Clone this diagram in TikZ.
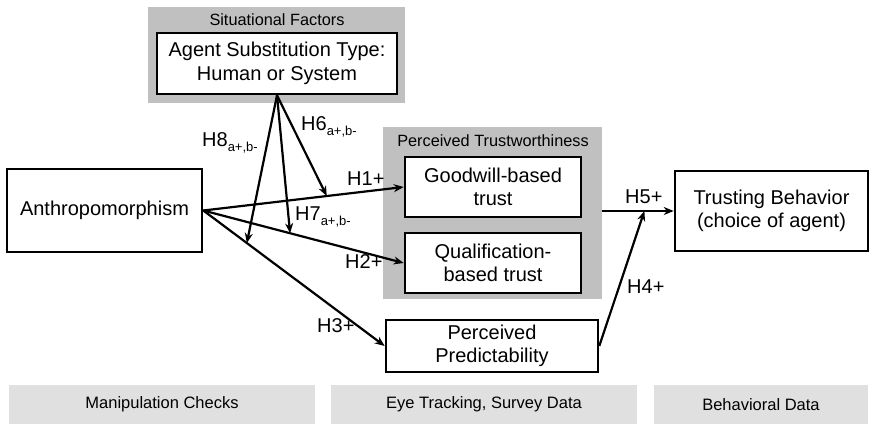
\documentclass[tikz,border=0pt]{standalone}
\usepackage{fontspec}
\setmainfont{Liberation Sans}
\usetikzlibrary{arrows.meta,calc}
\definecolor{groupgray}{RGB}{192,192,192}
\definecolor{bargray}{RGB}{224,224,224}
\newcommand{\hsub}[1]{\raisebox{-5pt}{\fontsize{13}{13}\selectfont #1}}
\begin{document}
\begin{tikzpicture}[x=1pt,y=-1pt,
  box/.style={draw=black, line width=2.6pt, fill=white, align=center, inner sep=0pt,
    font=\fontsize{20}{23.5}\selectfont},
  grp/.style={fill=groupgray, draw=none, inner sep=0pt},
  bar/.style={fill=bargray, draw=none, inner sep=0pt, font=\fontsize{16.5}{19}\selectfont},
  ttl/.style={font=\fontsize{16.3}{19}\selectfont, inner sep=0pt},
  hyp/.style={font=\fontsize{20}{23}\selectfont, inner sep=0pt, anchor=base west},
  arr/.style={line width=2.2pt, -{Stealth[length=10pt,width=8pt]}},
]
\useasboundingbox (0,0) rectangle (876,424);

% group backgrounds
\node[grp, minimum width=257pt, minimum height=96pt] (sit) at (276.5,55) {};
\node[ttl] (sittitle) at (277,20) {Situational Factors};
\node[grp, minimum width=219pt, minimum height=172pt] (trust) at (492.5,213) {};
\node[ttl] (trusttitle) at (493,141) {Perceived Trustworthiness};

% boxes
\node[box, minimum width=240pt, minimum height=61pt] (agent) at (277,63.5)
  {Agent Substitution Type:\\Human or System};
\node[box, minimum width=176pt, minimum height=60pt] (good) at (493,187)
  {Goodwill-based\\trust};
\node[box, minimum width=176pt, minimum height=60pt] (qual) at (493,263)
  {Qualification-\\based trust};
\node[box, minimum width=195pt, minimum height=83pt] (anth) at (104.5,210.5)
  {Anthropomorphism};
\node[box, minimum width=193pt, minimum height=80pt] (tb) at (771.5,211)
  {Trusting Behavior\\(choice of agent)};
\node[box, minimum width=212pt, minimum height=52pt] (pred) at (492,346)
  {Perceived\\Predictability};

% bottom bars
\node[bar, minimum width=306pt, minimum height=39pt] (mc) at (162,404.5) {Manipulation Checks};
\node[bar, minimum width=306pt, minimum height=39pt] (et) at (484,404.5) {Eye Tracking, Survey Data};
\node[bar, minimum width=214pt, minimum height=39pt] (bd) at (761,404.5) {Behavioral Data};

% main arrows
\draw[arr] (anth.east) -- (good.west);
\draw[arr] (anth.east) -- (qual.west);
\draw[arr] (anth.east) -- (pred.west);

\coordinate (p1) at ($(anth.east)!0.616!(good.west)$);
\coordinate (p2) at ($(anth.east)!0.433!(qual.west)$);
\coordinate (p3) at ($(anth.east)!0.24!(pred.west)$);
\draw[arr] (agent.south) -- (p1);
\draw[arr] (agent.south) -- (p2);
\draw[arr] (agent.south) -- (p3);

\coordinate (h5s) at (trust.east |- tb.west);
\draw[arr] (h5s) -- (tb.west);
\coordinate (p5) at ($(h5s)!0.59!(tb.west)$);
\draw[arr] (pred.east) -- (p5);

% hypothesis labels
\node[hyp] (l8) at (202,146) {H8\hsub{a+,b-}};
\node[hyp] (l6) at (301,130) {H6\hsub{a+,b-}};
\node[hyp] (l7) at (295,220) {H7\hsub{a+,b-}};
\node[hyp] (l1) at (347,185) {H1+};
\node[hyp] (l2) at (345,268) {H2+};
\node[hyp] (l3) at (317,332) {H3+};
\node[hyp] (l5) at (625,203) {H5+};
\node[hyp] (l4) at (627,293) {H4+};
\end{tikzpicture}
\end{document}
